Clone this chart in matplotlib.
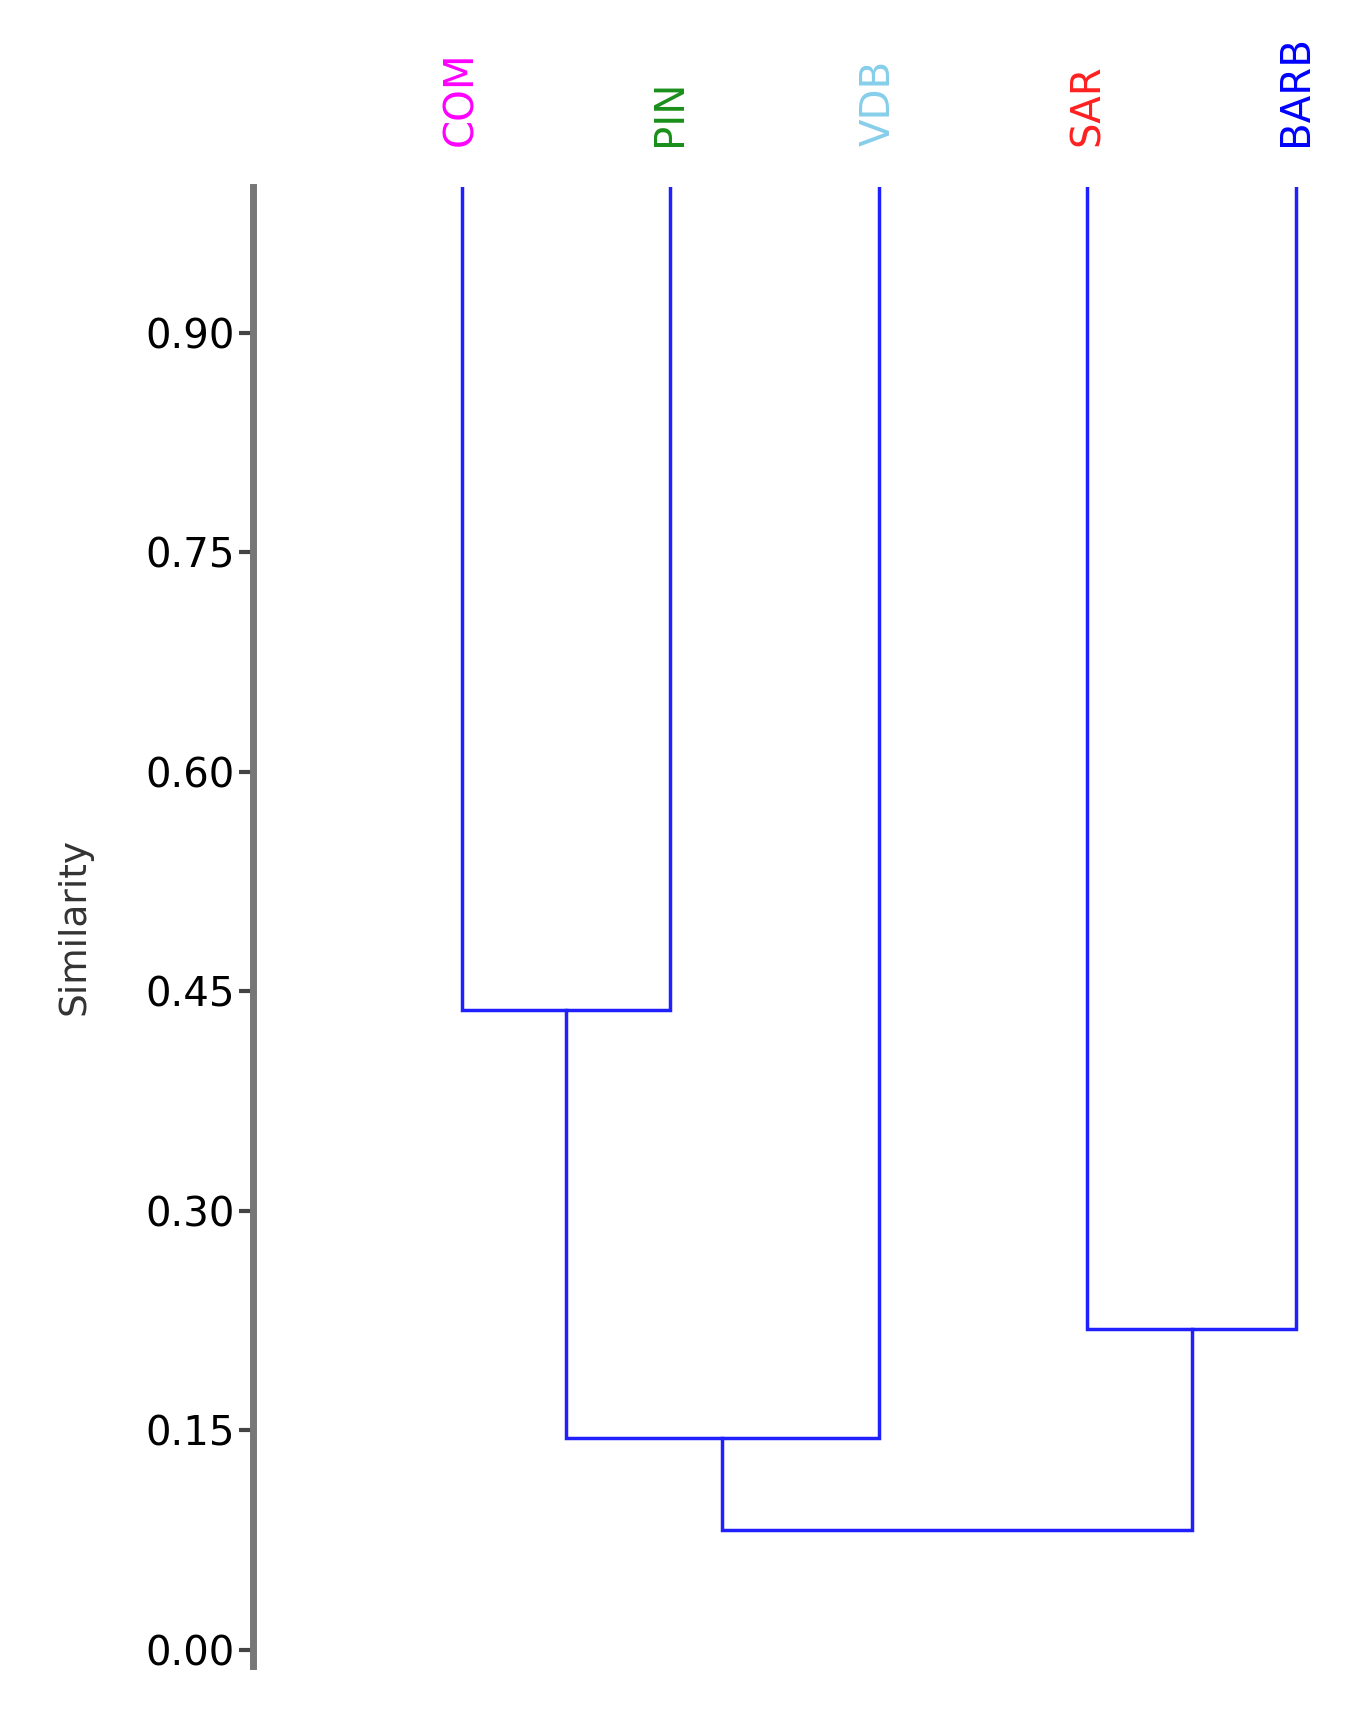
import matplotlib
matplotlib.use("Agg")
import matplotlib.pyplot as plt

labels = ["COM", "PIN", "VDB", "SAR", "BARB"]
label_colors = ["#ff00ff", "#1a8f1a", "#87ceeb", "#ff2020", "#0000ff"]
# merges: (left x, right x, height of left child, height of right child, merge similarity)
merge_left = [0.0, 3.0, 0.5, 1.25]
merge_right = [1.0, 4.0, 2.0, 3.5]
child_left_h = [1.0, 1.0, 0.437, 0.145]
child_right_h = [1.0, 1.0, 1.0, 0.2195]
merge_sim = [0.437, 0.2195, 0.145, 0.082]
ticks = [0.0, 0.15, 0.30, 0.45, 0.60, 0.75, 0.90]

fig = plt.figure(figsize=(13.6, 17.12), dpi=100)
ax = fig.add_axes([0.186, 0.027, 0.79, 0.864])
ax.set_xlim(-1, 4.15)
ax.set_ylim(-0.011, 1.0)

blue = "#2020ff"
for xl, xr, hl, hr, s in zip(merge_left, merge_right, child_left_h, child_right_h, merge_sim):
    ax.plot([xl, xl, xr, xr], [hl, s, s, hr], color=blue, lw=2.5, solid_joinstyle="miter")

for i, (lab, col) in enumerate(zip(labels, label_colors)):
    ax.text(i, 1.028, lab, rotation=90, ha="center", va="bottom", color=col, fontsize=29)

for s in ["top", "right", "bottom"]:
    ax.spines[s].set_visible(False)
ax.spines["left"].set_position(("data", -1))
ax.spines["left"].set_color("#777777")
ax.spines["left"].set_linewidth(5)
ax.set_xticks([])
ax.set_yticks(ticks)
ax.set_yticklabels([f"{t:.2f}" for t in ticks], fontsize=29)
ax.tick_params(axis="y", length=10, width=3, color="#444444", pad=3)
ax.set_ylabel("Similarity", fontsize=27, color="#333333", labelpad=38)

fig.savefig("out.png", dpi=100, facecolor="white")
